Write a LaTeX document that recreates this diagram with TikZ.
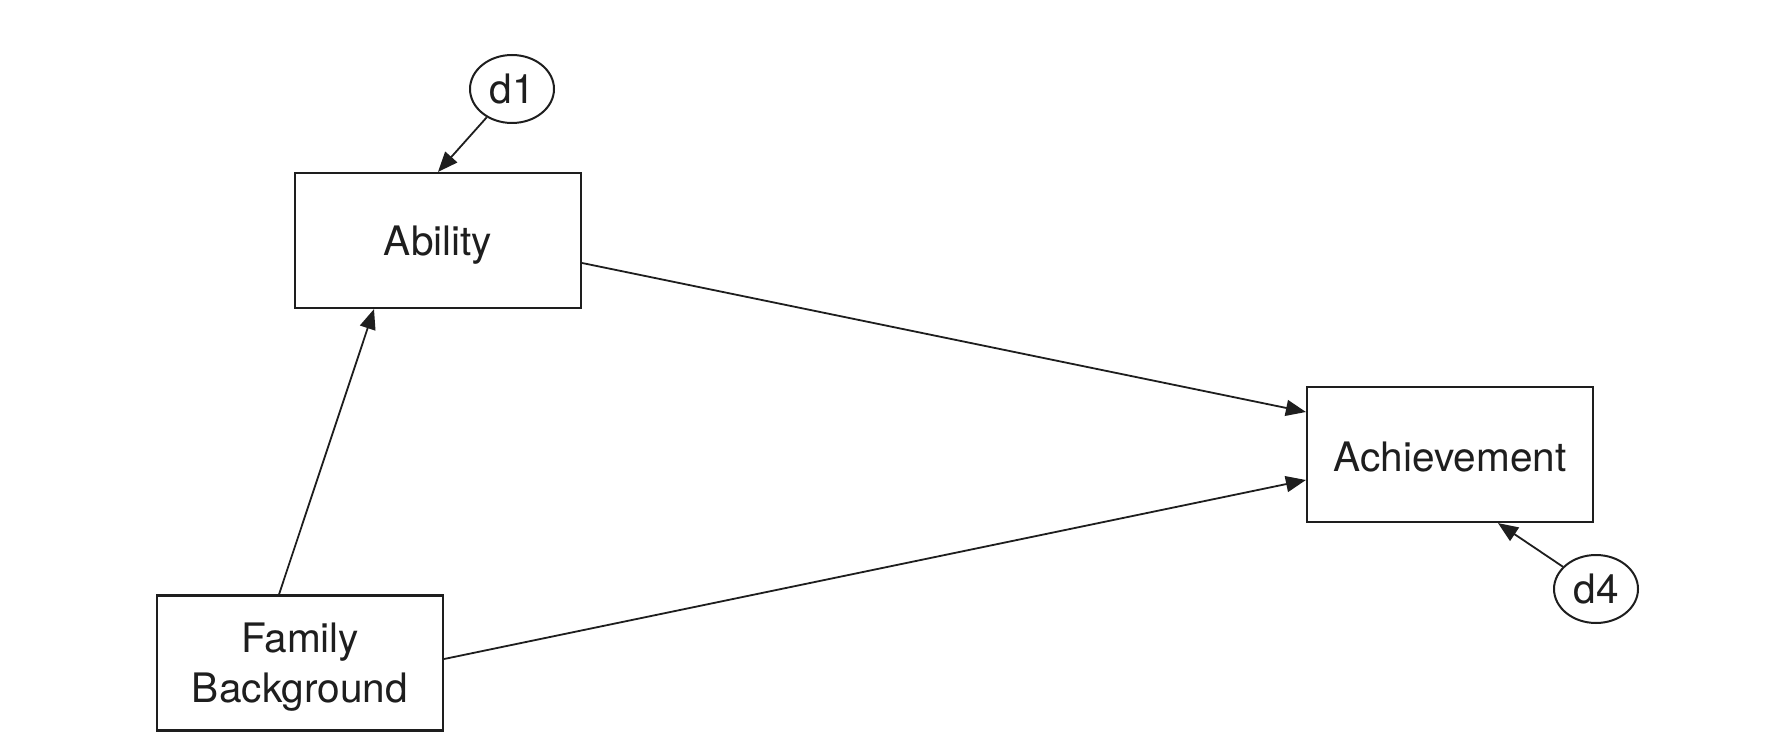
\documentclass[tikz,border=0pt]{standalone}
\usepackage{fontspec}
\setmainfont{TeX Gyre Heros}
\usetikzlibrary{shapes.geometric,arrows.meta}
\definecolor{ink}{HTML}{1E1E1E}
\tikzset{
  varbox/.style={draw=ink, line width=1.1pt, rectangle, minimum width=143pt, minimum height=67.5pt, inner sep=0pt, align=center, text depth=0pt, font=\fontsize{20.3pt}{25pt}\selectfont, text=ink},
  errnode/.style={draw=ink, line width=1pt, ellipse, minimum width=42pt, minimum height=34pt, inner sep=0pt, font=\fontsize{20.3pt}{25pt}\selectfont, text=ink},
  arr/.style={draw=ink, line width=0.9pt, -{Triangle[length=10pt,width=8pt]}}
}
\begin{document}
\begin{tikzpicture}[x=0.5pt,y=-0.5pt]
\useasboundingbox (0,0) rectangle (1770,748);
\fill[white] (0,0) rectangle (1770,748);
\node[varbox] (ab) at (438,240.5) {Ability};
\node[varbox] (fam) at (300,663) {Family\\Background};
\node[varbox, text height=17pt] (ach) at (1450,454.5) {Achievement};
\node[errnode] (d1) at (512,89) {d1};
\node[errnode] (d4) at (1596,589) {d4};
\draw[arr] (d1) -- (ab.north);
\draw[arr] ([xshift=-10.5pt]fam.north) -- ([xshift=-32pt]ab.south);
\draw[arr] ([yshift=-11.25pt]ab.east) -- ([yshift=21.25pt]ach.west);
\draw[arr] ([yshift=2pt]fam.east) -- ([yshift=-12.75pt]ach.west);
\draw[arr] (d4) -- ([xshift=24pt]ach.south);
\end{tikzpicture}
\end{document}
